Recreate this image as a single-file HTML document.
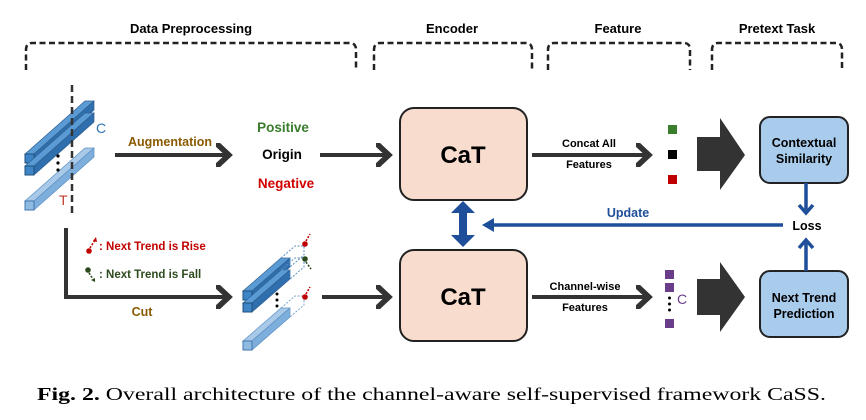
<!DOCTYPE html>
<html><head><meta charset="utf-8"><style>
html,body{margin:0;padding:0;background:#fff;}
svg{display:block;font-family:"Liberation Sans",sans-serif;}
.b{font-weight:bold;}
</style></head><body>
<svg width="866" height="420" viewBox="0 0 866 420" xmlns="http://www.w3.org/2000/svg">
<defs>
<marker id="ah" markerWidth="6" markerHeight="6" refX="3" refY="3" orient="auto" markerUnits="strokeWidth"><path d="M0,0 L3.2,3 L0,6" fill="none" stroke="#333" stroke-width="1.4"/></marker>
<g id="barD"><polygon points="0,0 60,-53 69,-53 9,0" fill="#5b9bd5" stroke="#2e5f8f" stroke-width="0.7"/><polygon points="9,0 69,-53 69,-44 9,9" fill="#2f6fae" stroke="#2e5f8f" stroke-width="0.7"/><rect x="0" y="0" width="9" height="9" fill="#3d85c6" stroke="#1f4e79" stroke-width="1"/></g>
<g id="barL"><polygon points="0,0 60,-53 69,-53 9,0" fill="#a9c9e8" stroke="#5b8fc4" stroke-width="0.7"/><polygon points="9,0 69,-53 69,-44 9,9" fill="#7eaedc" stroke="#5b8fc4" stroke-width="0.7"/><rect x="0" y="0" width="9" height="9" fill="#8fbbe3" stroke="#3f76ad" stroke-width="1"/></g>
<g id="sD"><polygon points="0,0 38,-33 47,-33 9,0" fill="#5b9bd5" stroke="#2e5f8f" stroke-width="0.7"/><polygon points="9,0 47,-33 47,-24 9,9" fill="#2f6fae" stroke="#2e5f8f" stroke-width="0.7"/><rect x="0" y="0" width="9" height="9" fill="#3d85c6" stroke="#1f4e79" stroke-width="1"/><polygon points="38,-33 52,-45 61,-45 61,-36 47,-24 47,-33" fill="none" stroke="#5b8fc4" stroke-width="1" stroke-dasharray="2,1.5"/></g>
<g id="sL"><polygon points="0,0 38,-33 47,-33 9,0" fill="#a9c9e8" stroke="#5b8fc4" stroke-width="0.7"/><polygon points="9,0 47,-33 47,-24 9,9" fill="#7eaedc" stroke="#5b8fc4" stroke-width="0.7"/><rect x="0" y="0" width="9" height="9" fill="#8fbbe3" stroke="#3f76ad" stroke-width="1"/><polygon points="38,-33 52,-45 61,-45 61,-36 47,-24 47,-33" fill="none" stroke="#7ea6d0" stroke-width="1" stroke-dasharray="2,1.5"/></g>
</defs>

<g class="b" font-size="13" fill="#000" text-anchor="middle">
<text x="191" y="33">Data Preprocessing</text>
<text x="452" y="33">Encoder</text>
<text x="618" y="33">Feature</text>
<text x="777" y="33">Pretext Task</text>
</g>
<g fill="none" stroke="#222" stroke-width="2.5" stroke-dasharray="6,3.5">
<path d="M26,70 L26,50 Q26,43 32,43 L350,43 Q356,43 356,50 L356,70"/>
<path d="M374,70 L374,50 Q374,43 380,43 L526,43 Q532,43 532,50 L532,70"/>
<path d="M548,70 L548,50 Q548,43 554,43 L684,43 Q690,43 690,50 L690,70"/>
<path d="M712,70 L712,50 Q712,43 718,43 L836,43 Q842,43 842,50 L842,70"/>
</g>

<use href="#barD" x="25" y="154"/>
<use href="#barD" x="25" y="166"/>
<use href="#barL" x="25" y="201"/>
<circle cx="58" cy="156" r="1.6" fill="#000"/><circle cx="58" cy="163" r="1.6" fill="#000"/><circle cx="58" cy="170" r="1.6" fill="#000"/>
<line x1="72" y1="85" x2="72" y2="213" stroke="#333" stroke-width="2.5" stroke-dasharray="7,4"/>
<text x="96" y="133" font-size="14" fill="#2e75b6">C</text>
<text x="59" y="205" font-size="14" fill="#c0392b">T</text>

<line x1="115" y1="155" x2="228" y2="155" stroke="#333" stroke-width="4" marker-end="url(#ah)"/>
<text x="170" y="146" class="b" font-size="12.5" fill="#8a5a00" text-anchor="middle">Augmentation</text>
<g class="b" font-size="13.5" text-anchor="middle">
<text x="283" y="132" fill="#3a7d2c">Positive</text>
<text x="282" y="159" fill="#000">Origin</text>
<text x="286" y="188" fill="#d00000">Negative</text>
</g>
<line x1="320" y1="155" x2="388" y2="155" stroke="#333" stroke-width="4" marker-end="url(#ah)"/>

<rect x="400" y="108" width="127" height="92" rx="14" fill="#f8dccd" stroke="#222" stroke-width="2"/>
<text x="463" y="163" class="b" font-size="24" text-anchor="middle">CaT</text>
<rect x="400" y="250" width="127" height="91" rx="14" fill="#f8dccd" stroke="#222" stroke-width="2"/>
<text x="463" y="305" class="b" font-size="24" text-anchor="middle">CaT</text>
<polygon points="463,201 475,213 467,213 467,235 475,235 463,247 451,235 459,235 459,213 451,213" fill="#1f4e9a"/>

<line x1="532" y1="155" x2="648" y2="155" stroke="#333" stroke-width="4" marker-end="url(#ah)"/>
<text x="589" y="147" class="b" font-size="11" text-anchor="middle">Concat All</text>
<text x="589" y="168" class="b" font-size="11" text-anchor="middle">Features</text>
<rect x="668" y="125" width="9" height="9" fill="#3a7d2c"/>
<rect x="668" y="150" width="9" height="9" fill="#000"/>
<rect x="668" y="175" width="9" height="9" fill="#c00000"/>
<line x1="532" y1="297" x2="648" y2="297" stroke="#333" stroke-width="4" marker-end="url(#ah)"/>
<text x="585" y="290" class="b" font-size="11" text-anchor="middle">Channel-wise</text>
<text x="585" y="311" class="b" font-size="11" text-anchor="middle">Features</text>
<rect x="665" y="270" width="9" height="9" fill="#6a3d8a"/>
<rect x="665" y="283" width="9" height="9" fill="#6a3d8a"/>
<circle cx="669.5" cy="298" r="1.5" fill="#000"/><circle cx="669.5" cy="304" r="1.5" fill="#000"/><circle cx="669.5" cy="310" r="1.5" fill="#000"/>
<rect x="665" y="319" width="9" height="9" fill="#6a3d8a"/>
<text x="677" y="304" font-size="14" fill="#6a3d8a">C</text>

<polygon points="697,137 720,137 720,118 745,155 720,190 720,171 697,171" fill="#333"/>
<polygon points="697,279 720,279 720,262 745,297 720,332 720,315 697,315" fill="#333"/>

<rect x="760" y="117" width="88" height="66" rx="10" fill="#a9cbec" stroke="#222" stroke-width="2"/>
<text x="804" y="147" class="b" font-size="12.5" text-anchor="middle">Contextual</text>
<text x="804" y="163" class="b" font-size="12.5" text-anchor="middle">Similarity</text>
<rect x="760" y="271" width="88" height="66" rx="10" fill="#a9cbec" stroke="#222" stroke-width="2"/>
<text x="804" y="302" class="b" font-size="12.5" text-anchor="middle">Next Trend</text>
<text x="804" y="318" class="b" font-size="12.5" text-anchor="middle">Prediction</text>
<text x="807" y="230" class="b" font-size="12.5" text-anchor="middle">Loss</text>
<line x1="806" y1="183" x2="806" y2="210" stroke="#1f4e9a" stroke-width="3.5"/>
<polyline points="799,205 806,213 813,205" fill="none" stroke="#1f4e9a" stroke-width="3.5"/>
<line x1="806" y1="271" x2="806" y2="243" stroke="#1f4e9a" stroke-width="3.5"/>
<polyline points="799,248 806,240 813,248" fill="none" stroke="#1f4e9a" stroke-width="3.5"/>
<line x1="783" y1="225" x2="490" y2="225" stroke="#1f4e9a" stroke-width="3.5"/>
<polygon points="482,225 494,218 494,232" fill="#1f4e9a"/>
<text x="628" y="217" class="b" font-size="12.5" fill="#1f4e9a" text-anchor="middle">Update</text>

<polyline points="66,228 66,297 228,297" fill="none" stroke="#333" stroke-width="4" marker-end="url(#ah)"/>
<text x="142" y="316" class="b" font-size="12.5" fill="#8a5a00" text-anchor="middle">Cut</text>
<circle cx="89" cy="251" r="2.8" fill="#c00000"/>
<line x1="90" y1="248" x2="95" y2="240" stroke="#c00000" stroke-width="1.6" stroke-dasharray="2,1.5"/>
<polygon points="96,237 97,242 93,241" fill="#c00000"/>
<text x="99" y="250" class="b" font-size="11.5" fill="#c00000">: Next Trend is Rise</text>
<circle cx="88" cy="270" r="2.8" fill="#2d4a1e"/>
<line x1="89" y1="273" x2="93" y2="279" stroke="#2d4a1e" stroke-width="1.6" stroke-dasharray="2,1.5"/>
<polygon points="95,282 91,280 95,278" fill="#2d4a1e"/>
<text x="99" y="278" class="b" font-size="11.5" fill="#2d4a1e">: Next Trend is Fall</text>

<use href="#sD" x="243" y="291"/>
<use href="#sD" x="243" y="303"/>
<use href="#sL" x="243" y="341"/>
<circle cx="277" cy="294" r="1.5" fill="#000"/><circle cx="277" cy="300" r="1.5" fill="#000"/><circle cx="277" cy="306" r="1.5" fill="#000"/>
<circle cx="305" cy="244" r="2.8" fill="#c00000"/><line x1="306" y1="241" x2="310" y2="234" stroke="#c00000" stroke-width="1.6" stroke-dasharray="2,1.5"/>
<circle cx="305" cy="259" r="2.8" fill="#2d4a1e"/><line x1="306" y1="262" x2="311" y2="269" stroke="#2d4a1e" stroke-width="1.6" stroke-dasharray="2,1.5"/>
<circle cx="305" cy="297" r="2.8" fill="#c00000"/><line x1="306" y1="294" x2="310" y2="287" stroke="#c00000" stroke-width="1.6" stroke-dasharray="2,1.5"/>
<line x1="322" y1="297" x2="388" y2="297" stroke="#333" stroke-width="4" marker-end="url(#ah)"/>

<text x="37" y="400" font-family="'Liberation Serif',serif" font-size="17.5" textLength="789" lengthAdjust="spacingAndGlyphs"><tspan font-weight="bold">Fig. 2.</tspan> Overall architecture of the channel-aware self-supervised framework CaSS.</text>
</svg>
</body></html>
